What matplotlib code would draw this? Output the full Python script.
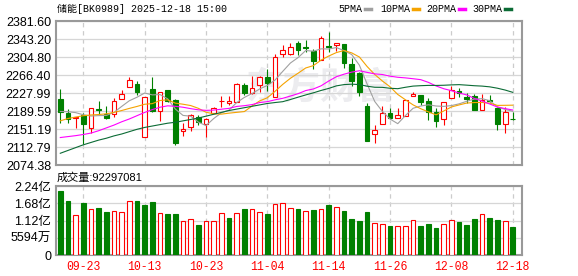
import matplotlib
matplotlib.use('Agg')
import matplotlib.pyplot as plt
from matplotlib.lines import Line2D
import numpy as np

# Data
DATES = ['09-18', '09-19', '09-22', '09-23', '09-24', '09-25', '09-26', '09-29', '09-30', '10-09',
         '10-10', '10-13', '10-14', '10-15', '10-16', '10-17', '10-20', '10-21', '10-22', '10-23',
         '10-24', '10-27', '10-28', '10-29', '10-30', '10-31', '11-03', '11-04', '11-05', '11-06',
         '11-07', '11-10', '11-11', '11-12', '11-13', '11-14', '11-17', '11-18', '11-19', '11-20',
         '11-21', '11-24', '11-25', '11-26', '11-27', '11-28', '12-01', '12-02', '12-03', '12-04',
         '12-05', '12-08', '12-09', '12-10', '12-11', '12-12', '12-15', '12-16', '12-17', '12-18']

OPEN = [2215.3, 2186.3, 2175.5, 2181.3, 2153.0, 2194.5, 2182.7, 2182.7, 2214.6, 2241.6,
        2247.3, 2133.8, 2235.9, 2189.8, 2234.5, 2213.2, 2148.0, 2156.5, 2176.3, 2162.2,
        2186.3, 2211.0, 2207.5, 2209.7, 2245.1, 2227.4, 2244.4, 2261.4, 2220.3, 2311.1,
        2311.1, 2335.2, 2325.3, 2317.5, 2298.3, 2327.4, 2330.2, 2332.4, 2289.1, 2269.9,
        2200.5, 2141.6, 2162.2, 2184.9, 2174.2, 2179.9, 2221.7, 2223.9, 2210.4, 2187.0,
        2172.1, 2216.8, 2232.4, 2220.3, 2221.7, 2192.0, 2214.0, 2195.5, 2161.5, 2173.6]
HIGH = [2236.6, 2193.4, 2178.0, 2184.9, 2196.9, 2210.4, 2200.5, 2216.8, 2234.5, 2262.9,
        2252.9, 2220.3, 2261.4, 2231.0, 2234.5, 2215.3, 2163.6, 2182.7, 2181.3, 2175.0,
        2199.0, 2221.7, 2222.4, 2248.7, 2250.1, 2264.3, 2264.3, 2278.4, 2311.1, 2330.2,
        2333.7, 2339.4, 2340.8, 2321.7, 2350.1, 2358.6, 2335.2, 2332.4, 2301.9, 2273.5,
        2207.5, 2160.0, 2200.5, 2195.5, 2196.2, 2212.5, 2231.0, 2223.9, 2216.8, 2195.5,
        2208.3, 2243.7, 2238.0, 2227.4, 2225.3, 2225.3, 2225.0, 2199.0, 2199.0, 2188.4]
LOW = [2165.0, 2163.6, 2153.0, 2119.6, 2142.3, 2181.3, 2172.1, 2177.8, 2214.6, 2241.6,
       2224.6, 2133.8, 2188.4, 2168.6, 2209.0, 2117.5, 2136.6, 2147.3, 2160.0, 2134.5,
       2184.9, 2199.0, 2201.9, 2209.7, 2223.9, 2225.3, 2230.9, 2233.1, 2220.3, 2304.0,
       2308.9, 2308.9, 2316.0, 2278.5, 2298.3, 2316.0, 2317.4, 2280.6, 2243.7, 2222.5,
       2126.0, 2122.5, 2162.2, 2172.1, 2174.2, 2179.9, 2221.7, 2202.6, 2170.7, 2156.5,
       2160.0, 2216.8, 2220.3, 2207.5, 2192.0, 2192.0, 2210.0, 2149.4, 2142.3, 2170.7]
CLOSE = [2188.4, 2172.1, 2177.5, 2162.9, 2195.5, 2192.4, 2174.2, 2210.4, 2226.0, 2255.8,
         2230.2, 2218.9, 2190.5, 2229.5, 2210.4, 2121.1, 2151.5, 2182.0, 2167.1, 2172.1,
         2196.9, 2212.0, 2211.8, 2246.5, 2227.4, 2238.0, 2261.4, 2248.7, 2304.0, 2319.6,
         2326.7, 2319.6, 2323.8, 2296.9, 2344.4, 2325.3, 2335.2, 2291.2, 2254.4, 2231.0,
         2126.0, 2148.6, 2184.9, 2174.2, 2181.3, 2212.5, 2226.0, 2209.0, 2187.0, 2168.6,
         2208.3, 2234.5, 2227.4, 2214.6, 2192.0, 2213.2, 2212.0, 2161.5, 2188.4, 2172.1]

# volume in 亿
VOLUME = [2.078, 1.753, 1.288, 1.688, 1.483, 1.526, 1.396, 1.428, 1.385, 1.753,
          1.753, 1.623, 1.721, 1.353, 1.331, 1.331, 1.104, 1.158, 0.974, 1.104,
          1.104, 1.353, 1.201, 1.353, 1.493, 1.483, 1.396, 1.331, 1.645, 1.677,
          1.515, 1.493, 1.428, 1.461, 1.483, 1.623, 1.547, 1.428, 1.169, 1.104,
          1.396, 1.028, 0.996, 0.941, 0.931, 0.931, 1.125, 0.941, 1.006, 0.877,
          0.996, 1.125, 1.071, 0.974, 1.169, 1.320, 1.201, 1.136, 1.104, 0.92297081]

MA5 = [2189.0, 2188.5, 2186.5, 2182.0, 2179.3, 2180.1, 2180.5, 2187.1, 2199.7, 2211.8,
       2219.3, 2228.3, 2224.3, 2225.0, 2215.9, 2194.1, 2180.6, 2178.9, 2166.4, 2158.8,
       2173.9, 2186.0, 2192.0, 2207.9, 2218.9, 2227.1, 2237.0, 2244.4, 2255.9, 2274.3,
       2292.1, 2303.7, 2318.7, 2317.3, 2322.3, 2322.0, 2325.1, 2318.6, 2310.1, 2287.4,
       2247.6, 2210.2, 2189.0, 2172.9, 2163.0, 2180.3, 2195.8, 2200.6, 2203.2, 2200.6,
       2199.8, 2201.5, 2205.2, 2210.7, 2215.4, 2216.3, 2211.8, 2198.7, 2193.4, 2189.4]
MA10 = [2169.0, 2174.0, 2177.0, 2180.0, 2181.5, 2182.5, 2184.0, 2187.0, 2191.0, 2195.5,
        2199.7, 2204.4, 2205.7, 2212.3, 2213.8, 2206.7, 2204.4, 2201.6, 2195.7, 2187.3,
        2184.0, 2183.3, 2185.4, 2187.1, 2188.8, 2200.5, 2211.5, 2218.2, 2231.9, 2246.6,
        2259.6, 2270.4, 2281.6, 2286.6, 2298.3, 2307.0, 2314.4, 2318.7, 2313.7, 2304.9,
        2284.8, 2267.7, 2253.8, 2241.5, 2225.2, 2213.9, 2203.0, 2194.8, 2188.1, 2181.8,
        2190.0, 2198.6, 2202.9, 2206.9, 2208.0, 2208.1, 2206.7, 2201.9, 2202.1, 2202.4]
MA20 = [2133.5, 2135.5, 2137.5, 2140.0, 2143.0, 2148.0, 2154.0, 2160.0, 2167.0, 2173.0,
        2180.0, 2187.0, 2193.0, 2198.0, 2201.0, 2200.0, 2198.0, 2195.0, 2192.5, 2191.4,
        2191.9, 2193.8, 2195.6, 2199.7, 2201.3, 2203.6, 2208.0, 2209.9, 2213.8, 2217.0,
        2221.8, 2226.8, 2233.5, 2236.9, 2243.6, 2253.8, 2263.0, 2268.4, 2272.8, 2275.7,
        2272.2, 2269.0, 2267.7, 2264.1, 2261.8, 2260.5, 2258.7, 2256.7, 2250.9, 2243.3,
        2237.4, 2233.2, 2228.3, 2224.2, 2216.6, 2211.0, 2204.8, 2198.4, 2195.1, 2192.1]
MA30 = [2100.0, 2106.0, 2112.0, 2118.0, 2123.0, 2128.0, 2132.0, 2137.0, 2141.0, 2146.0,
        2151.0, 2155.0, 2158.0, 2161.0, 2164.0, 2166.0, 2169.0, 2172.0, 2175.0, 2179.0,
        2183.0, 2187.0, 2191.0, 2194.0, 2197.0, 2200.0, 2203.0, 2206.0, 2208.0, 2209.8,
        2214.4, 2219.4, 2224.2, 2228.7, 2233.7, 2238.1, 2243.5, 2246.2, 2247.1, 2246.3,
        2242.8, 2240.5, 2240.3, 2238.4, 2237.5, 2240.5, 2243.0, 2243.9, 2244.5, 2244.4,
        2244.8, 2245.6, 2246.1, 2245.0, 2243.8, 2243.0, 2241.4, 2238.5, 2234.6, 2229.7]

PRICE_TICKS = [2074.38, 2112.79, 2151.19, 2189.59, 2227.99, 2266.40, 2304.80, 2343.20, 2381.60]
VOL_TICKS = [0, 0.5594, 1.1188, 1.6782, 2.2376]
VOL_TICK_LABELS = ['0', '5594万', '1.12亿', '1.68亿', '2.24亿']
XTICK_DATES = ['09-23', '10-13', '10-23', '11-04', '11-14', '11-26', '12-08', '12-18']

TITLE = '储能[BK0989] 2025-12-18 15:00'
VOL_TITLE = '成交量:92297081'

MA_NAMES = ['5PMA', '10PMA', '20PMA', '30PMA']
MA_COLORS = ['#a0a0a0', '#f5a300', '#ff00ff', '#0b6b35']

UP = '#ff0000'
DOWN = '#008000'
FRAME = '#999999'
GRID = '#d6d6d6'

MONO = ['Liberation Mono', 'Noto Sans CJK SC']
SANS = ['Liberation Sans', 'Noto Sans CJK SC']

W, H = 578, 276


def fx(px):
    return px / W


def fy(py):
    return 1 - py / H


def style_axes(ax):
    for sp in ax.spines.values():
        sp.set_color(FRAME)
        sp.set_linewidth(1.5)
    ax.tick_params(length=0, pad=3.5)
    ax.grid(axis='y', color=GRID, lw=0.9, ls='-', zorder=0)
    ax.grid(axis='x', color='#cccccc', lw=0.9, ls=(0, (3.5, 3)), zorder=0)
    ax.set_axisbelow(True)


def main():
    x = np.arange(len(DATES))
    o = np.array(OPEN)
    h = np.array(HIGH)
    l = np.array(LOW)
    c = np.array(CLOSE)
    v = np.array(VOLUME)
    xlim = (-0.56, 60.2)
    xt = [DATES.index(d) for d in XTICK_DATES]

    fig = plt.figure(figsize=(W / 100, H / 100), dpi=100)
    ax = fig.add_axes([fx(56), fy(165.3), fx(522 - 56), (165.3 - 21) / H])
    axv = fig.add_axes([fx(56), fy(255), fx(522 - 56), (255 - 186) / H])

    # watermark
    ax.text(34, 2238, '东方财富', fontsize=27, fontweight='bold', color='#ececef',
            family=['Noto Sans CJK SC'], ha='center', va='center', zorder=0.5)

    # candles
    bw = 0.62
    for i in x:
        up = c[i] >= o[i]
        top, bot = max(o[i], c[i]), min(o[i], c[i])
        hgt = max(top - bot, 0.9)
        if up:
            ax.vlines(i, top, h[i], color=UP, lw=0.8, zorder=2)
            ax.vlines(i, l[i], bot, color=UP, lw=0.8, zorder=2)
            ax.bar(i, hgt, bw, bottom=bot, facecolor='white', edgecolor=UP, lw=0.8, zorder=3)
        else:
            ax.vlines(i, l[i], h[i], color=DOWN, lw=0.8, zorder=2)
            ax.bar(i, hgt, bw, bottom=bot, facecolor=DOWN, edgecolor=DOWN, lw=0.8, zorder=3)

    for ma, col in zip([MA5, MA10, MA20, MA30], MA_COLORS):
        ax.plot(x, ma, color=col, lw=0.8, zorder=4)

    ax.set_xlim(*xlim)
    ax.set_ylim(PRICE_TICKS[0], PRICE_TICKS[-1])
    ax.set_yticks(PRICE_TICKS)
    ax.set_yticklabels([f'{t:.2f}' for t in PRICE_TICKS], family=SANS, fontsize=9)
    ax.set_xticks(xt)
    ax.set_xticklabels([])
    style_axes(ax)

    # volume, coloured by close vs previous close
    prev = np.concatenate([[o[0]], c[:-1]])
    for i in x:
        if c[i] >= prev[i]:
            axv.bar(i, v[i], bw, facecolor='white', edgecolor=UP, lw=0.8, zorder=3)
        else:
            axv.bar(i, v[i], bw, facecolor=DOWN, edgecolor=DOWN, lw=0.8, zorder=3)
    axv.set_xlim(*xlim)
    axv.set_ylim(VOL_TICKS[0], VOL_TICKS[-1])
    axv.set_yticks(VOL_TICKS)
    axv.set_yticklabels(VOL_TICK_LABELS, family=SANS, fontsize=9)
    axv.set_xticks(xt)
    axv.set_xticklabels(XTICK_DATES, family=MONO, fontsize=8.3, color=UP)
    style_axes(axv)
    axv.tick_params(axis='x', pad=4)

    # titles
    fig.text(fx(57), fy(9), TITLE, family=MONO, fontsize=7.2, va='center', ha='left')
    fig.text(fx(57), fy(178), VOL_TITLE, family=SANS, fontsize=8, va='center', ha='left')

    # legend
    for name, col, sx in zip(MA_NAMES, MA_COLORS, [338, 380, 426, 472]):
        fig.text(fx(sx), fy(9), name, family=MONO, fontsize=7.2, va='center', ha='left')
        lx = sx + len(name) * 5.9 + 3
        fig.add_artist(Line2D([fx(lx), fx(lx + 6)], [fy(9), fy(9)], color=col, lw=2.5))

    fig.savefig('out.png', dpi=100)
    plt.close(fig)


if __name__ == "__main__":
    main()
